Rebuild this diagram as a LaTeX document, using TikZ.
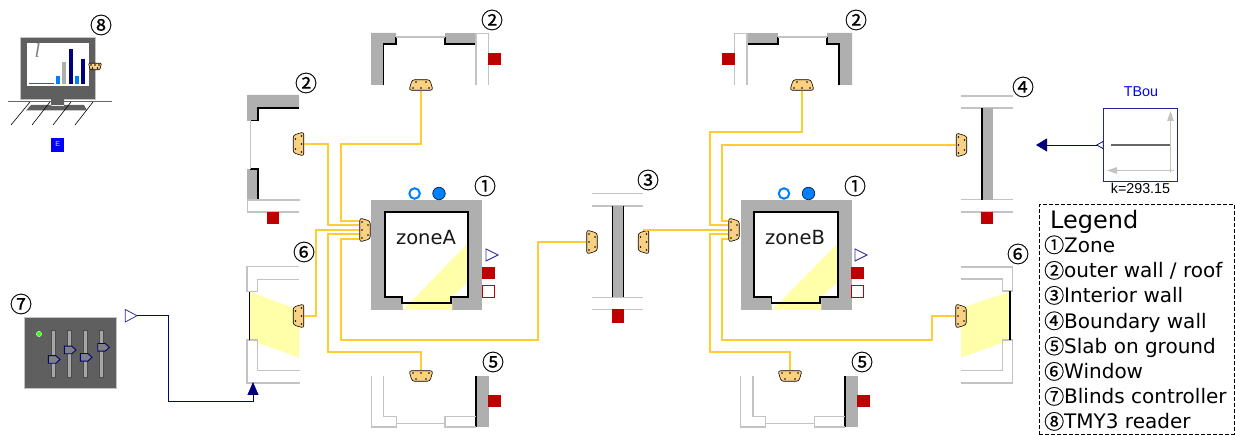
\documentclass[tikz,border=0pt]{standalone}
\usepackage{fontspec}
\setmainfont{DejaVu Sans}
\newfontfamily\blockfont{Liberation Sans}
\newfontfamily\markfont{Liberation Serif}
\newfontfamily\numfont[FakeBold=0.5]{Noto Sans CJK SC}
\usepackage{tikz}
\usetikzlibrary{shapes.geometric,arrows.meta}
\definecolor{wallgray}{RGB}{175,175,175}
\definecolor{linegray}{RGB}{195,195,195}
\definecolor{busorange}{RGB}{250,208,130}
\definecolor{wireorange}{RGB}{255,204,51}
\definecolor{heatred}{RGB}{191,0,0}
\definecolor{sunyellow}{RGB}{255,255,170}
\definecolor{signalblue}{RGB}{0,0,127}
\definecolor{darkpanel}{RGB}{95,95,95}
\definecolor{portblue}{RGB}{0,127,255}
\begin{document}
\begin{tikzpicture}[x=1pt,y=-1pt,
            wire_edge/.style={draw=wireorange, line width=2pt},
            signal_edge/.style={draw=signalblue, line width=0.9pt},
            thin_wall/.style={draw=linegray, line width=1.2pt},
            black_wall/.style={draw=black, line width=1.3pt},
            circled/.style={inner sep=0pt, font=\numfont\fontsize{22}{22}\selectfont},
            legend_row/.style={inner sep=0pt, anchor=base west, font=\fontsize{20}{20}\selectfont},
            heat_port/.style={rectangle, fill=heatred, inner sep=0pt, minimum width=13pt, minimum height=12.5pt},
            zone_label/.style={inner sep=0pt, font=\fontsize{19.5}{20}\selectfont, text=black!90}]
            \tikzset{
              bus dots/.style={path picture={
                \foreach \dx/\dy in {-5/3,5/3,-8/-3,0/-3,8/-3}
                  \fill [black] (path picture bounding box.center) ++({\dx*#1*1pt},{\dy*#1*1pt}) circle (0.8pt);}},
              bus/.style={trapezium, trapezium stretches=true, draw=black, fill=busorange, line width=0.6pt,
                rounded corners=2.5pt, inner sep=0.5pt, trapezium left angle=80, trapezium right angle=80},
              bus up/.style={bus, minimum width=24pt, minimum height=10.5pt, bus dots=1},
              bus down/.style={bus up, rotate=180},
              bus left/.style={bus up, rotate=90},
              bus right/.style={bus up, rotate=-90}}
            \useasboundingbox (0,0) rectangle (1235,435);

            % zone A
            \fill [wallgray] (371,200) rectangle (482,310);
            \fill [white] (385,212) -- (468,212) -- (468,297) -- (452,297) -- (452,310) -- (403,310) -- (402,297) -- (385,297) -- cycle;
            \fill [sunyellow] (468,243) -- (403,310) -- (452,310) -- (452,297) -- (468,282) -- cycle;
            \draw [black_wall] (385,212) -- (468,212) -- (468,297) -- (451,297) -- (451,303) -- (402,303) -- (402,297) -- (385,297) -- cycle;
            \node [zone_label] (nameA) at (426,238) {zoneA};
            \node [circle, draw=portblue, fill=white, line width=2pt, inner sep=0pt, minimum size=10.5pt] (airA) at (414.6,193.5) {};
            \node [circle, draw=black!70!portblue, fill=portblue, line width=0.7pt, inner sep=0pt, minimum size=12.5pt] (fluidA) at (439,193.5) {};
            \draw [draw=signalblue!80, fill=white, line width=0.9pt] (486,249) -- (498,255) -- (486,261) -- cycle;
            \node [heat_port] (heatA) at (488.5,273) {};
            \node [heat_port, fill=white, draw=heatred, line width=0.8pt, minimum width=12pt, minimum height=12pt] (surfA) at (488.5,291.5) {};

            % zone B
            \fill [wallgray] (741,200) rectangle (852,310);
            \fill [white] (754,212) -- (838,212) -- (838,297) -- (821,297) -- (821,310) -- (772,310) -- (771,297) -- (754,297) -- cycle;
            \fill [sunyellow] (838,243) -- (772,310) -- (821,310) -- (821,297) -- (838,282) -- cycle;
            \draw [black_wall] (754,212) -- (838,212) -- (838,297) -- (820,297) -- (820,303) -- (771.5,303) -- (771.5,297) -- (754,297) -- cycle;
            \node [zone_label] (nameB) at (795,238) {zoneB};
            \node [circle, draw=portblue, fill=white, line width=2pt, inner sep=0pt, minimum size=10.5pt] (airB) at (784,193.5) {};
            \node [circle, draw=black!70!portblue, fill=portblue, line width=0.7pt, inner sep=0pt, minimum size=12.5pt] (fluidB) at (808.5,193.5) {};
            \draw [draw=signalblue!80, fill=white, line width=0.9pt] (855,249) -- (867,255) -- (855,261) -- cycle;
            \node [heat_port] (heatB) at (857.5,273) {};
            \node [heat_port, fill=white, draw=heatred, line width=0.8pt, minimum width=12pt, minimum height=12pt] (surfB) at (857.5,291.5) {};

            % outer wall, left of zone A
            \fill [wallgray] (247,95) -- (299,95) -- (299,108) -- (258,108) -- (258,121) -- (247,121) -- cycle;
            \fill [wallgray] (247,169) rectangle (258,200);
            \draw [black_wall] (299,108) -- (258,108) -- (258,120.5) -- (250,120.5);
            \draw [black_wall] (250,169) -- (258,169) -- (258,200);
            \draw [thin_wall] (250.3,120) -- (250.3,169);
            \draw [thin_wall] (300,200) -- (247.5,200) -- (247.5,212) -- (299,212);
            \node [heat_port, minimum width=12pt] (heatOutA) at (273,218) {};

            % roof of zone A
            \fill [wallgray] (371,33) -- (396,33) -- (396,44) -- (383.5,44) -- (383.5,85) -- (371,85) -- cycle;
            \fill [wallgray] (445,33) rectangle (476,44);
            \draw [black_wall] (396,37) -- (396,44) -- (383.5,44) -- (383.5,85);
            \draw [black_wall] (445,37) -- (445,44) -- (476,44);
            \draw [thin_wall] (396,37) -- (445,37);
            \draw [thin_wall] (476,85.5) -- (476,33.5) -- (488.5,33.5) -- (488.5,85);
            \node [heat_port] (heatRoofA) at (494.5,59) {};

            % roof of zone B
            \fill [wallgray] (747,33) rectangle (778,44);
            \fill [wallgray] (827,33) -- (852,33) -- (852,85) -- (839,85) -- (839,44) -- (827,44) -- cycle;
            \draw [black_wall] (747,44) -- (778,44) -- (778,37);
            \draw [black_wall] (827,37) -- (827,44) -- (839,44) -- (839,85);
            \draw [thin_wall] (778,37) -- (827,37);
            \draw [thin_wall] (747,85.5) -- (747,33.5) -- (734.5,33.5) -- (734.5,85);
            \node [heat_port] (heatRoofB) at (728.5,59) {};

            % interior wall
            \draw [thin_wall] (592,193.5) -- (643,193.5);
            \draw [thin_wall] (592,206) -- (643,206);
            \draw [thin_wall] (592,297.5) -- (643,297.5);
            \draw [thin_wall] (592,309.7) -- (643,309.7);
            \fill [wallgray] (612,206) rectangle (623.5,297.5);
            \draw [draw=black, line width=1pt] (612.5,206) -- (612.5,297.5);
            \draw [draw=black, line width=1pt] (623.2,206) -- (623.2,297.5);
            \node [heat_port, minimum width=12pt, minimum height=13.5pt] (heatInt) at (618,316) {};

            % boundary wall
            \draw [thin_wall] (961,96) -- (1012.7,96);
            \draw [thin_wall] (961,108) -- (1012.7,108);
            \draw [thin_wall] (961,199.7) -- (1012.7,199.7);
            \draw [thin_wall] (961,212) -- (1012.7,212);
            \fill [wallgray] (981.5,108) rectangle (992.6,200);
            \draw [black_wall] (982,108) -- (982,200);
            \node [heat_port, minimum width=12pt] (heatBou) at (987,218) {};

            % slab of zone A
            \fill [wallgray] (476,376) rectangle (489,427);
            \draw [black_wall] (476,376) -- (476,427);
            \draw [thin_wall] (371.3,376.5) -- (371.3,427) -- (396.7,427) -- (396.7,416.7) -- (383.7,416.7) -- (383.7,376.5);
            \draw [thin_wall] (396.7,423.7) -- (445,423.7);
            \draw [thin_wall] (476,416.7) -- (445,416.7) -- (445,427) -- (476,427);
            \node [heat_port] (heatSlabA) at (494.5,401) {};

            % slab of zone B
            \fill [wallgray] (845,376) rectangle (858,427);
            \draw [black_wall] (845,376) -- (845,427);
            \draw [thin_wall] (740.7,376.5) -- (740.7,427) -- (765.7,427) -- (765.7,416.7) -- (753,416.7) -- (753,376.5);
            \draw [thin_wall] (765.7,423.7) -- (814.5,423.7);
            \draw [thin_wall] (845,416.7) -- (814.5,416.7) -- (814.5,427) -- (845,427);
            \node [heat_port] (heatSlabB) at (863.5,401) {};

            % window of zone A
            \fill [sunyellow] (250,292) -- (299,310) -- (299,357.7) -- (250,340) -- cycle;
            \draw [thin_wall] (299,266.7) -- (247,266.7) -- (247,291.7) -- (257.7,291.7) -- (257.7,279.3) -- (299,279.3);
            \draw [thin_wall] (300,370.7) -- (257.7,370.7) -- (257.7,340) -- (247,340) -- (247,383) -- (300,383);
            \draw [black_wall] (249.5,292) -- (249.5,340);

            % window of zone B
            \fill [sunyellow] (1010,291.7) -- (961,308) -- (961,357.7) -- (1010,340) -- cycle;
            \draw [thin_wall] (961,267) -- (1012.7,267) -- (1012.7,291) -- (1002.7,291) -- (1002.7,279) -- (961,279);
            \draw [thin_wall] (961,370.7) -- (1002.7,370.7) -- (1002.7,340) -- (1012.7,340) -- (1012.7,383) -- (961,383);
            \draw [black_wall] (1010,291) -- (1010,340);

            % buses
            \node [bus right] (busA) at (365,230) {};
            \node [bus right] (busB) at (734,230) {};
            \node [bus left] (busOutA) at (298.5,144) {};
            \node [bus up] (busRoofA) at (421,85) {};
            \node [bus up] (busRoofB) at (802,85) {};
            \node [bus right] (busIntA) at (592,242) {};
            \node [bus left] (busIntB) at (643.5,242) {};
            \node [bus right] (busBou) at (961.5,145) {};
            \node [bus left] (busWinA) at (298.5,316) {};
            \node [bus right] (busWinB) at (961,316) {};
            \node [bus down] (busSlabA) at (421,376) {};
            \node [bus down] (busSlabB) at (790,376) {};

            % wires of zone A
            \draw [wire_edge] (busRoofA.south) |- (341,144) |- ([yshift=9pt]busA.south);
            \draw [wire_edge] (busOutA.south) -| (328,225.5) -- ([yshift=4.5pt]busA.south);
            \draw [wire_edge] (busWinA.south) -| (316,230) -- (busA.south);
            \draw [wire_edge] (busSlabA.south) |- (328,352) |- ([yshift=-4.5pt]busA.south);
            \draw [wire_edge] (busIntA.south) -| (538,340) -| (341,239) -- ([yshift=-9pt]busA.south);

            % wires of zone B
            \draw [wire_edge] (busRoofB.south) |- (710,132) |- ([yshift=4.5pt]busB.south);
            \draw [wire_edge] (busBou.south) -| (722,221) -- ([yshift=9pt]busB.south);
            \draw [wire_edge] (busIntB.east) |- (busB.south);
            \draw [wire_edge] (busSlabB.south) |- (710,352) |- ([yshift=-4.5pt]busB.south);
            \draw [wire_edge] (busWinB.south) -| (932,340) -| (722,239) -- ([yshift=-9pt]busB.south);

            % weather reader
            \node [rectangle, fill=darkpanel, draw=linegray, line width=0.4pt, inner sep=0pt, minimum width=75pt, minimum height=62pt] (reader) at (57.5,68) {};
            \fill [white] (27,43) rectangle (89,86);
            \node [inner sep=0pt, text=black!50, font=\markfont\fontsize{20}{20}\selectfont\itshape] (readerMark) at (37.5,51) {l};
            \draw [draw=signalblue!70, line width=1pt] (29,83.7) -- (54,83.7);
            \fill [portblue] (56,76) rectangle (60,84);
            \fill [wallgray] (62,62) rectangle (66,84);
            \fill [signalblue] (69,49) rectangle (73,84);
            \fill [portblue] (75,76) rectangle (79,84);
            \fill [signalblue] (81,59) rectangle (85,84);
            \draw [draw=black!60, line width=1pt] (8,102) -- (112,102);
            \fill [darkpanel] (51,99) rectangle (64,106) (31,105) -- (84,105) -- (87,110.5) -- (26,110.5) -- cycle;
            \draw [draw=black, line width=0.6pt] (30,102) -- (11,125);
            \draw [draw=black, line width=0.6pt] (50,102) -- (32,125);
            \draw [draw=black, line width=0.6pt] (71,102) -- (53,125);
            \draw [draw=black, line width=0.6pt] (93,102) -- (75,125);
            \node [bus, rotate=180, minimum width=13pt, minimum height=6.5pt, bus dots=0.5, rounded corners=1pt] (busReader) at (95,66.5) {};
            \node [rectangle, fill=blue, inner sep=0pt, minimum width=13.5pt, minimum height=13.5pt, text=white!85!blue, font=\blockfont\fontsize{7}{7}\selectfont] (readerE) at (57.7,145) {\raisebox{2pt}{E}};

            % blinds controller
            \node [rectangle, fill=darkpanel, draw=linegray, line width=0.5pt, inner sep=0pt, minimum width=92pt, minimum height=70.5pt] (ctrl) at (70,353) {};
            \node [circle, fill=green!80!yellow, draw=white!70!green, line width=0.7pt, inner sep=0pt, minimum size=5pt] (ctrlLed) at (39,334) {};
            \foreach \sx in {53.3,69.3,85.3,101.3}
              \draw [fill=black!35, draw=black!70, line width=0.6pt] (\sx-2,330.7) rectangle (\sx+2,377);
            \foreach \hx/\hy in {48.3/359.5,64.3/350,80.3/357.3,97.7/347.3}
              \draw [fill=black!50, draw=signalblue, line width=0.9pt] (\hx,\hy-3.8) -- (\hx+7.5,\hy-3.8) -- (\hx+11.7,\hy) -- (\hx+7.5,\hy+3.8) -- (\hx,\hy+3.8) -- cycle;
            \coordinate (ctrlOut) at (137,315.7);
            \draw [draw=signalblue!80, fill=white, line width=0.8pt] (125.3,309.5) -- (ctrlOut) -- (125.3,322) -- cycle;
            \coordinate (winIn) at (253,382);
            \draw [signal_edge, -{Triangle[length=13pt,width=11pt]}] (ctrlOut) -| (168.3,401) -| (winIn);

            % temperature boundary block
            \node [rectangle, draw=signalblue!85, fill=white, line width=0.8pt, inner sep=0pt, minimum width=74.5pt, minimum height=73pt] (TBou) at (1140.5,144.5) {};
            \node [inner sep=0pt, text=blue, font=\blockfont\fontsize{14.3}{15}\selectfont] (TBouName) at (1141,92) {TBou};
            \node [inner sep=0pt, font=\blockfont\fontsize{14.3}{15}\selectfont] (TBouValue) at (1140.5,188) {k=293.15};
            \draw [draw=linegray, line width=1pt, -{Triangle[length=10pt,width=6.5pt]}] (1170.5,173) -- (1170.5,111);
            \draw [draw=linegray, line width=1pt, -{Triangle[length=10pt,width=6.5pt]}] (1174,170.5) -- (1107,170.5);
            \draw [draw=black!60, line width=1.2pt] (1111,145) -- (1170,145);
            \coordinate (TBouOut) at (1096.7,145);
            \draw [draw=signalblue, fill=white, line width=0.7pt] (1103.3,141.3) -- (TBouOut) -- (1103.3,148.7) -- cycle;
            \coordinate (wallIn) at (1036,145);
            \draw [signal_edge, -{Triangle[length=11pt,width=13pt]}] (TBouOut) -- (wallIn);

            % numbers
            \node [circled] (no8) at (101,25) {⑧};
            \node [circled] (no2a) at (306,83) {②};
            \node [circled] (no2b) at (492,20) {②};
            \node [circled] (no2c) at (856,20) {②};
            \node [circled] (no1a) at (485,186) {①};
            \node [circled] (no1b) at (855,186) {①};
            \node [circled] (no3) at (648,180) {③};
            \node [circled] (no4) at (1023,87) {④};
            \node [circled] (no5a) at (493,362) {⑤};
            \node [circled] (no5b) at (862,362) {⑤};
            \node [circled] (no6a) at (304,252) {⑥};
            \node [circled] (no6b) at (1018,254) {⑥};
            \node [circled] (no7) at (21,304) {⑦};

            % legend
            \node [rectangle, draw=black, dash pattern=on 4pt off 2pt, line width=0.7pt, inner sep=0pt, minimum width=195pt, minimum height=229.7pt] (legend) at (1136.8,319.2) {};
            \node [legend_row, font=\fontsize{24}{24}\selectfont] (legendTitle) at (1050,229) {Legend};
            \node [legend_row] (row1) at (1044,252.4) {{\numfont ①}Zone};
            \node [legend_row] (row2) at (1044,278) {{\numfont ②}outer wall / roof};
            \node [legend_row] (row3) at (1044,303) {{\numfont ③}Interior wall};
            \node [legend_row] (row4) at (1044,328.4) {{\numfont ④}Boundary wall};
            \node [legend_row] (row5) at (1044,353.7) {{\numfont ⑤}Slab on ground};
            \node [legend_row] (row6) at (1044,379) {{\numfont ⑥}Window};
            \node [legend_row] (row7) at (1044,404) {{\numfont ⑦}Blinds controller};
            \node [legend_row] (row8) at (1044,429) {{\numfont ⑧}TMY3 reader};
        \end{tikzpicture}
\end{document}
